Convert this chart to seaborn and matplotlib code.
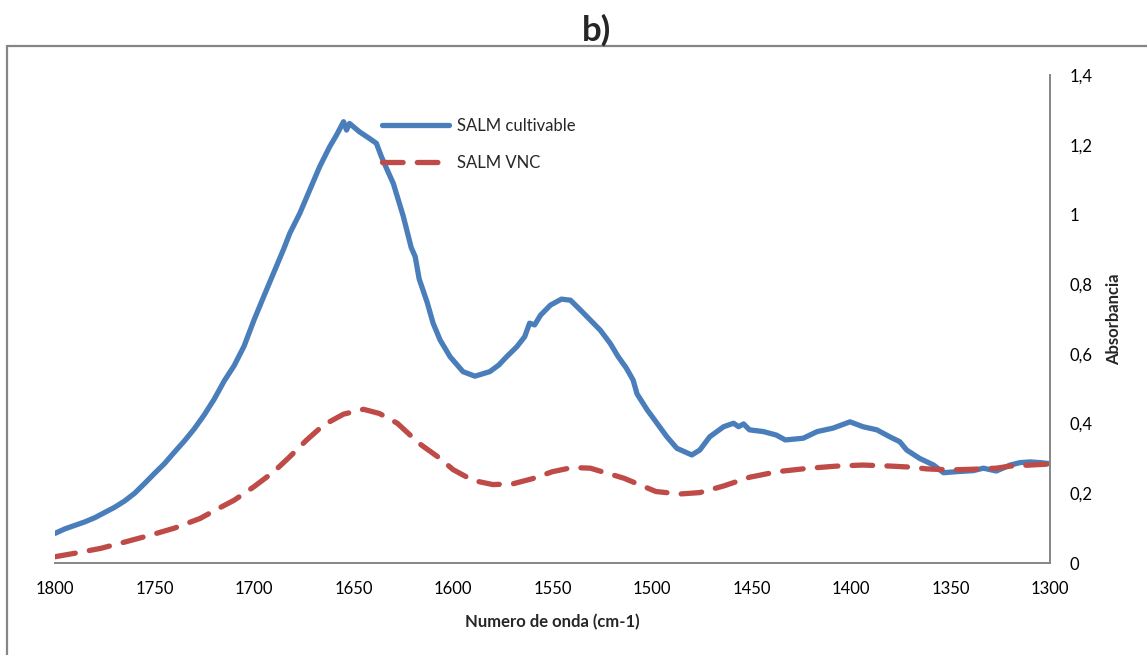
import matplotlib
matplotlib.use("Agg")
import matplotlib.pyplot as plt
import seaborn as sns
import pandas as pd
from matplotlib.lines import Line2D
from matplotlib.ticker import MultipleLocator, FuncFormatter

# ---------------- data ----------------
cultivable_wn = [1800, 1795, 1790, 1785, 1780, 1775, 1770, 1765, 1760, 1755, 1750, 1745, 1740,
                 1735, 1730, 1725, 1720, 1715, 1710, 1705, 1700, 1695, 1690, 1685, 1682, 1677,
                 1672, 1667, 1662, 1658.5, 1655, 1653.5, 1652, 1647, 1642, 1638.5, 1636, 1633,
                 1630, 1625, 1621, 1619, 1617, 1613, 1610, 1606.5, 1601.5, 1595, 1589, 1581.5,
                 1577, 1573, 1568, 1564, 1561.5, 1559, 1556, 1551, 1545.5, 1541, 1536, 1531,
                 1526, 1521, 1517, 1513, 1509.5, 1507.5, 1502.5, 1498, 1492.5, 1487.5, 1480,
                 1476, 1471, 1464, 1459, 1456.5, 1454, 1451, 1444, 1437.5, 1433, 1424, 1417,
                 1409, 1400.5, 1394, 1387, 1380.5, 1375.5, 1372, 1365.5, 1358.5, 1353.5, 1347,
                 1338.5, 1333.5, 1327, 1320, 1315, 1310, 1305, 1300]
cultivable_abs = [0.085, 0.098, 0.108, 0.118, 0.130, 0.145, 0.160, 0.178, 0.200, 0.228, 0.257,
                  0.285, 0.318, 0.350, 0.385, 0.425, 0.470, 0.522, 0.566, 0.622, 0.697, 0.766,
                  0.834, 0.902, 0.946, 1.003, 1.070, 1.137, 1.194, 1.228, 1.266, 1.242, 1.261,
                  1.237, 1.218, 1.204, 1.166, 1.127, 1.089, 0.995, 0.905, 0.879, 0.815, 0.748,
                  0.688, 0.640, 0.592, 0.549, 0.536, 0.549, 0.568, 0.592, 0.620, 0.649, 0.688,
                  0.683, 0.711, 0.740, 0.757, 0.754, 0.726, 0.697, 0.668, 0.630, 0.592, 0.560,
                  0.525, 0.485, 0.440, 0.405, 0.362, 0.329, 0.310, 0.324, 0.362, 0.391, 0.401,
                  0.391, 0.399, 0.382, 0.377, 0.367, 0.353, 0.358, 0.377, 0.387, 0.405, 0.391,
                  0.382, 0.362, 0.348, 0.324, 0.300, 0.281, 0.259, 0.262, 0.265, 0.272, 0.264,
                  0.281, 0.288, 0.290, 0.288, 0.285]

vnc_wn = [1800, 1790, 1777, 1765, 1752, 1740, 1727, 1720, 1710, 1700, 1690, 1682, 1673.5, 1665,
          1655, 1645, 1637, 1628, 1617, 1606.5, 1600, 1590, 1580, 1570, 1560, 1550, 1540, 1531,
          1514, 1506, 1498, 1486, 1476, 1464, 1451, 1437, 1421, 1407, 1394, 1380, 1370, 1362,
          1350, 1338.5, 1327, 1320, 1310, 1300]
vnc_abs = [0.018, 0.028, 0.042, 0.060, 0.080, 0.100, 0.128, 0.150, 0.180, 0.219, 0.262, 0.305,
           0.353, 0.396, 0.427, 0.441, 0.429, 0.401, 0.343, 0.300, 0.268, 0.237, 0.225, 0.227,
           0.242, 0.262, 0.274, 0.272, 0.243, 0.224, 0.205, 0.198, 0.202, 0.221, 0.246, 0.262,
           0.272, 0.278, 0.281, 0.278, 0.275, 0.270, 0.267, 0.269, 0.272, 0.278, 0.281, 0.284]

series_names = ["SALM cultivable", "SALM VNC"]
title_text = "b)"
x_label = "Numero de onda (cm-1)"
y_label = "Absorbancia"

# ---------------- style ----------------
sns.set_style("white")
plt.rcParams["font.family"] = ["Lato", "DejaVu Sans"]

W, H = 1147, 655
fig = plt.figure(figsize=(W / 100, H / 100), dpi=100)
fig.patch.set_facecolor("white")
ax = fig.add_axes([55 / W, 92 / H, 995 / W, 488 / H])

blue = "#4a7ebb"
red = "#be4b48"
gray = "#868686"

df_c = pd.DataFrame({"wn": cultivable_wn, "abs": cultivable_abs})
df_v = pd.DataFrame({"wn": vnc_wn, "abs": vnc_abs})

sns.lineplot(data=df_c, x="wn", y="abs", ax=ax, color=blue, linewidth=3.8,
             estimator=None, sort=False, label=series_names[0])
sns.lineplot(data=df_v, x="wn", y="abs", ax=ax, color=red, linewidth=3.8,
             estimator=None, sort=False, label=series_names[1])

l_c, l_v = ax.lines[0], ax.lines[1]
l_c.set_solid_capstyle("round")
l_c.set_solid_joinstyle("round")
l_v.set_dashes((3.9, 2.7))
l_v.set_dash_capstyle("round")

ax.set_xlim(1800, 1300)
ax.set_ylim(0, 1.4)

# axes styling
for s in ["top", "left"]:
    ax.spines[s].set_visible(False)
for s in ["right", "bottom"]:
    ax.spines[s].set_color(gray)
    ax.spines[s].set_linewidth(1.4)

ax.xaxis.set_major_locator(MultipleLocator(50))
ax.xaxis.set_minor_locator(MultipleLocator(10))
ax.xaxis.set_major_formatter(FuncFormatter(lambda v, p: f"{int(round(v))}"))
ax.yaxis.tick_right()
ax.yaxis.set_label_position("right")
ax.yaxis.set_major_locator(MultipleLocator(0.2))
ax.yaxis.set_major_formatter(FuncFormatter(lambda v, p: f"{round(v, 1):g}".replace(".", ",")))

ax.tick_params(axis="x", which="major", direction="inout", length=7.5, width=1.3,
               color=gray, pad=9.5, labelsize=12, labelcolor="black")
ax.tick_params(axis="x", which="minor", direction="in", length=3.2, width=1.1, color=gray)
ax.tick_params(axis="y", which="both", length=0, pad=14, labelsize=12, labelcolor="black")
ax.tick_params(axis="y", left=False, labelleft=False, right=True, labelright=True)
ax.grid(False)

ax.set_xlabel(x_label, fontsize=12, fontweight="bold", labelpad=12)
ax.set_ylabel(y_label, fontsize=12, fontweight="bold")
ax.yaxis.set_label_coords((1106 - 55) / 995, 0.5)

ax.legend(loc="upper left", bbox_to_anchor=(0.3286, 0.912), frameon=False, fontsize=12,
          handlelength=4.0, handletextpad=0.5, labelspacing=1.25, borderpad=0,
          borderaxespad=0)

fig.text(596 / W, 1 - 30 / H, title_text, ha="center", va="center", fontsize=25,
         fontweight="bold")

# outer chart border (cut off at right/bottom like the reference)
fig.add_artist(Line2D([7 / W, 1.0], [1 - 46 / H, 1 - 46 / H], transform=fig.transFigure,
                      color=gray, linewidth=1.6))
fig.add_artist(Line2D([7 / W, 7 / W], [0.0, 1 - 46 / H], transform=fig.transFigure,
                      color=gray, linewidth=1.6))

fig.savefig("out.png", dpi=100, facecolor="white")
